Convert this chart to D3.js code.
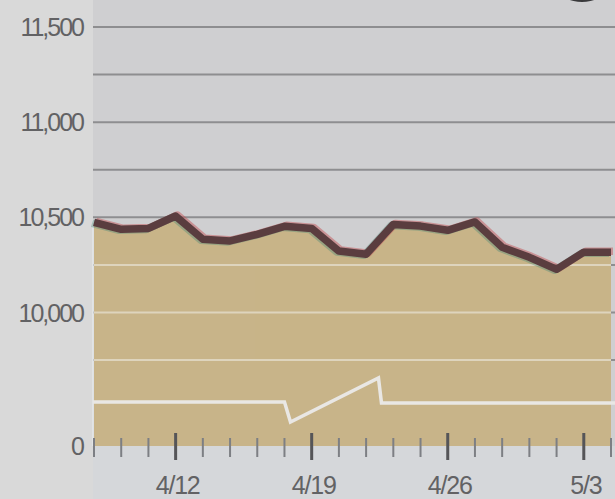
<!DOCTYPE html>
<html>
<head>
<meta charset="utf-8">
<script src="https://cdn.jsdelivr.net/npm/d3@7"></script>
<style>
    html, body { margin: 0; padding: 0; background: #d8d8d8; }
    svg { display: block; }
    .tickLabel { font-family: "Liberation Sans", "DejaVu Sans", sans-serif; fill: #626264; }
</style>
</head>
<body>
<svg id="chart" width="615" height="499"></svg>
<script>
"use strict";

// trading days shown on the x axis
const dates = ["4/6", "4/7", "4/8", "4/12", "4/13", "4/14", "4/15", "4/16", "4/19", "4/20",
    "4/21", "4/22", "4/23", "4/26", "4/27", "4/28", "4/29", "4/30", "5/3", "5/4"];
// closing level for each day
const closes = [10474, 10437, 10442, 10507, 10385, 10376, 10411, 10453, 10442, 10323,
    10306, 10463, 10454, 10432, 10476, 10343, 10290, 10227, 10317, 10317];
const weekLabels = ["4/12", "4/19", "4/26", "5/3"];
const yTickValues = [0, 10000, 10500, 11000, 11500];
const gridValues = [9750, 10000, 10250, 10500, 10750, 11000, 11250, 11500];
const breakValue = 9530;

const width = 615;
const height = 499;
const plotLeft = 93;

const svg = d3.select("#chart");

/**
 * x scale over trading days, y scale with a compressed band below the axis break.
 */
const x = d3.scalePoint().domain(dates).range([94, 611]);
const y = d3.scaleLinear().domain([0, breakValue, 11500]).range([446, 402, 27]);

// backgrounds
svg.append("rect").attr("width", width).attr("height", height).attr("fill", "#d9d9d9");
svg.append("rect")
    .attr("x", plotLeft).attr("y", 0)
    .attr("width", width - plotLeft).attr("height", y(0))
    .attr("fill", "#cfcfd1");
svg.append("rect")
    .attr("x", plotLeft).attr("y", y(0))
    .attr("width", width - plotLeft).attr("height", height - y(0))
    .attr("fill", "#d5d7da");
svg.append("ellipse")
    .attr("cx", 582).attr("cy", -10).attr("rx", 22).attr("ry", 12)
    .attr("fill", "#3a3a3c");

const grid = (g, color) => g.selectAll("line")
    .data(gridValues)
    .join("line")
    .attr("x1", plotLeft)
    .attr("x2", width)
    .attr("y1", (d) => y(d))
    .attr("y2", (d) => y(d))
    .attr("stroke", color)
    .attr("stroke-width", 2);

svg.append("g").call(grid, "#8e8e90");

const area = d3.area()
    .x((d, i) => x(dates[i]))
    .y0(y(0))
    .y1((d) => y(d));

svg.append("defs").append("clipPath")
    .attr("id", "fillClip")
    .append("path")
    .attr("d", area(closes));

svg.append("path")
    .attr("d", area(closes))
    .attr("fill", "#c8b489");

// light grid inside the filled area
svg.append("g")
    .attr("clip-path", "url(#fillClip)")
    .call(grid, "#e4dccb")
    .attr("opacity", 0.8);

// left edge of the plot
svg.append("line")
    .attr("x1", plotLeft).attr("x2", plotLeft)
    .attr("y1", y(gridValues[0]) - 140).attr("y2", y(0))
    .attr("stroke", "#e8ecee").attr("stroke-width", 2).attr("opacity", 0.6);

// axis break symbol
const x0 = x(dates[7]);
const x1 = x0 + 97;
const yb = y(breakValue);
svg.append("path")
    .attr("d", d3.line()([
        [plotLeft, yb], [x0, yb], [x0 + 6, yb + 20], [x1 - 3, yb - 24], [x1, yb + 1], [width, yb + 1]
    ]))
    .attr("fill", "none")
    .attr("stroke", "#e9e7e4")
    .attr("stroke-width", 3.5)
    .attr("stroke-linejoin", "miter");

// index line, with the slight colour fringes of the print
const line = d3.line()
    .x((d, i) => x(dates[i]))
    .y((d) => y(d));

svg.append("path")
    .attr("d", line(closes))
    .attr("transform", "translate(2,-1)")
    .attr("fill", "none")
    .attr("stroke", "#c2565a")
    .attr("stroke-width", 7.5)
    .attr("stroke-linejoin", "round")
    .attr("opacity", 0.5);
svg.append("path")
    .attr("d", line(closes))
    .attr("transform", "translate(-2,1)")
    .attr("fill", "none")
    .attr("stroke", "#4f8a78")
    .attr("stroke-width", 7.5)
    .attr("stroke-linejoin", "round")
    .attr("opacity", 0.4);
svg.append("path")
    .attr("d", line(closes))
    .attr("fill", "none")
    .attr("stroke", "#5a3d3f")
    .attr("stroke-width", 7.5)
    .attr("stroke-linejoin", "round");

// x axis ticks: one per trading day, longer on Mondays
const xAxis = svg.append("g");
xAxis.selectAll("line")
    .data(dates)
    .join("line")
    .attr("x1", (d) => x(d))
    .attr("x2", (d) => x(d))
    .attr("y1", (d) => (weekLabels.includes(d) ? 433 : 438))
    .attr("y2", (d) => (weekLabels.includes(d) ? 460 : 457))
    .attr("stroke", (d) => (weekLabels.includes(d) ? "#555558" : "#7d7f84"))
    .attr("stroke-width", (d) => (weekLabels.includes(d) ? 3 : 2));

xAxis.selectAll("text")
    .data(weekLabels)
    .join("text")
    .attr("class", "tickLabel")
    .attr("x", (d) => x(d) + 2)
    .attr("y", 494)
    .attr("text-anchor", "middle")
    .attr("font-size", 25)
    .attr("letter-spacing", -1.2)
    .text((d) => d);

// y axis labels
const fmt = d3.format(",");
svg.append("g").selectAll("text")
    .data(yTickValues)
    .join("text")
    .attr("class", "tickLabel")
    .attr("x", 83)
    .attr("y", (d) => y(d))
    .attr("dy", "0.36em")
    .attr("text-anchor", "end")
    .attr("font-size", 25)
    .attr("letter-spacing", -2)
    .text((d) => fmt(d));
</script>
</body>
</html>
